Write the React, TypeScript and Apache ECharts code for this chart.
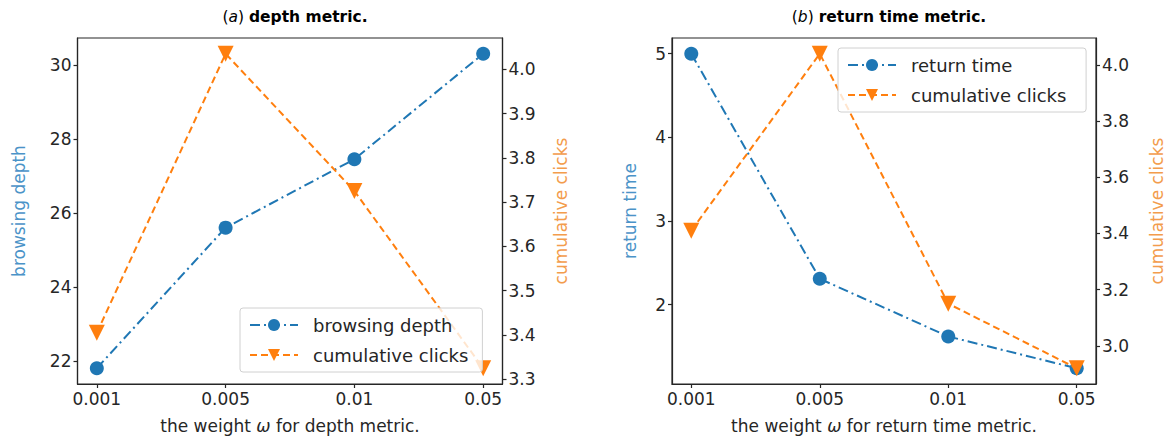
import React, { useEffect, useRef } from "react";
import * as echarts from "echarts";

const weights = ["0.001", "0.005", "0.01", "0.05"];
const browsingDepth = [21.8, 25.6, 27.45, 30.3];
const clicksA = [3.405, 4.035, 3.725, 3.325];
const returnTime = [5.0, 2.31, 1.62, 1.24];
const clicksB = [3.41, 4.04, 3.15, 2.92];

const depthTicks = [22, 24, 26, 28, 30];
const clicksATicks = [3.3, 3.4, 3.5, 3.6, 3.7, 3.8, 3.9, 4.0];
const returnTicks = [2, 3, 4, 5];
const clicksBTicks = [3.0, 3.2, 3.4, 3.6, 3.8, 4.0];

const BLUE = "#1f77b4";
const ORANGE = "#ff7f0e";
const BLUE_TXT = "#4b93c8";
const ORANGE_TXT = "#f39c4c";
const INK = "#262626";
const FONT = "DejaVu Sans";
const FS = 17;

const pad = (v: { min: number; max: number }) => (v.max - v.min) * 0.05;

function xAxis(gridIndex: number, name: string) {
  return {
    type: "value",
    gridIndex,
    min: -0.15,
    max: weights.length - 1 + 0.15,
    name,
    nameLocation: "middle",
    nameGap: 33,
    nameTextStyle: {
      color: INK,
      fontFamily: FONT,
      fontSize: FS,
      rich: { i: { fontStyle: "italic", fontFamily: FONT, fontSize: FS, color: INK } },
    },
    axisLine: { show: true, onZero: false, lineStyle: { color: INK, width: 1.2 } },
    axisTick: { show: true, length: 4, customValues: weights.map((_, i) => i), lineStyle: { color: INK, width: 1.2 } },
    axisLabel: {
      customValues: weights.map((_, i) => i),
      formatter: (v: number) => weights[Math.round(v)],
      color: INK,
      fontFamily: FONT,
      fontSize: FS,
      margin: 6,
    },
    splitLine: { show: false },
  };
}

function yAxis(
  gridIndex: number,
  position: string,
  name: string,
  ticks: number[],
  color: string,
  nameGap: number,
  digits: number
) {
  return {
    type: "value",
    gridIndex,
    position,
    min: (v: { min: number; max: number }) => v.min - pad(v),
    max: (v: { min: number; max: number }) => v.max + pad(v),
    name,
    nameLocation: "middle",
    nameRotate: 90,
    nameGap,
    nameTextStyle: { color, fontFamily: FONT, fontSize: FS },
    axisLine: { show: true, onZero: false, lineStyle: { color: INK, width: 1.2 } },
    axisTick: { show: true, length: 4, customValues: ticks, lineStyle: { color: INK, width: 1.2 } },
    axisLabel: {
      customValues: ticks,
      formatter: (v: number) => v.toFixed(digits),
      color: INK,
      fontFamily: FONT,
      fontSize: FS,
      margin: 6,
    },
    splitLine: { show: false },
  };
}

function lineSeries(
  name: string,
  values: number[],
  xi: number,
  yi: number,
  color: string,
  symbol: string,
  rotate: number,
  dash: number[]
) {
  return {
    type: "line",
    name,
    xAxisIndex: xi,
    yAxisIndex: yi,
    data: values.map((v, i) => [i, v]),
    symbol,
    symbolRotate: rotate,
    symbolSize: symbol === "circle" ? 14 : 16,
    showSymbol: true,
    color,
    itemStyle: { color, opacity: 1 },
    lineStyle: { color, width: 2, type: dash },
    z: yi % 2 === 1 ? 4 : 3,
  };
}

const legendBase = {
  orient: "vertical",
  padding: [8, 14, 8, 9],
  itemGap: 12,
  itemWidth: 48,
  itemHeight: 15,
  backgroundColor: "rgba(255,255,255,0.8)",
  borderColor: "#d0d0d0",
  borderWidth: 1,
  borderRadius: 3,
  textStyle: { color: INK, fontFamily: FONT, fontSize: 18, padding: [0, 0, 0, 10] },
  z: 10,
};

export default function App() {
  const ref = useRef<HTMLDivElement>(null);
  useEffect(() => {
    document.body.style.margin = "0";
    if (!ref.current) return;
    const chart = echarts.init(ref.current, null, { renderer: "svg" });
    const titleRich = {
      i: { fontStyle: "italic", fontWeight: "normal", fontFamily: FONT, fontSize: 15.5, color: "#000" },
      n: { fontWeight: "normal", fontFamily: FONT, fontSize: 15.5, color: "#000" },
      b: { fontWeight: "bold", fontFamily: FONT, fontSize: 15.5, color: "#000" },
    };
    chart.setOption({
      animation: false,
      backgroundColor: "#ffffff",
      title: [
        {
          text: "{n|(}{i|a}{n|)} {b|depth metric.}",
          left: 290,
          top: 3,
          textAlign: "center",
          textStyle: { rich: titleRich },
        },
        {
          text: "{n|(}{i|b}{n|)} {b|return time metric.}",
          left: 884,
          top: 3,
          textAlign: "center",
          textStyle: { rich: titleRich },
        },
      ],
      grid: [
        { left: 77.5, top: 38, width: 425, height: 346, show: true, borderColor: INK, borderWidth: 1.2, backgroundColor: "transparent" },
        { left: 672, top: 38, width: 424, height: 346, show: true, borderColor: INK, borderWidth: 1.2, backgroundColor: "transparent" },
      ],
      xAxis: [
        xAxis(0, "the weight {i|ω} for depth metric."),
        xAxis(1, "the weight {i|ω} for return time metric."),
      ],
      yAxis: [
        yAxis(0, "left", "browsing depth", depthTicks, BLUE_TXT, 50, 0),
        yAxis(0, "right", "cumulative clicks", clicksATicks, ORANGE_TXT, 50, 1),
        yAxis(1, "left", "return time", returnTicks, BLUE_TXT, 34, 0),
        yAxis(1, "right", "cumulative clicks", clicksBTicks, ORANGE_TXT, 52, 1),
      ],
      legend: [
        {
          ...legendBase,
          left: 240,
          top: 308,
          data: ["browsing depth", "cumulative clicks"],
        },
        {
          ...legendBase,
          left: 838,
          top: 48,
          data: ["return time", "cumulative clicks "],
        },
      ],
      series: [
        lineSeries("browsing depth", browsingDepth, 0, 0, BLUE, "circle", 0, [10, 4, 2, 4]),
        lineSeries("cumulative clicks", clicksA, 0, 1, ORANGE, "triangle", 180, [7, 4]),
        lineSeries("return time", returnTime, 1, 2, BLUE, "circle", 0, [10, 4, 2, 4]),
        lineSeries("cumulative clicks ", clicksB, 1, 3, ORANGE, "triangle", 180, [7, 4]),
      ],
    });
    return () => chart.dispose();
  }, []);
  return <div ref={ref} style={{ width: 1172, height: 443 }} />;
}
